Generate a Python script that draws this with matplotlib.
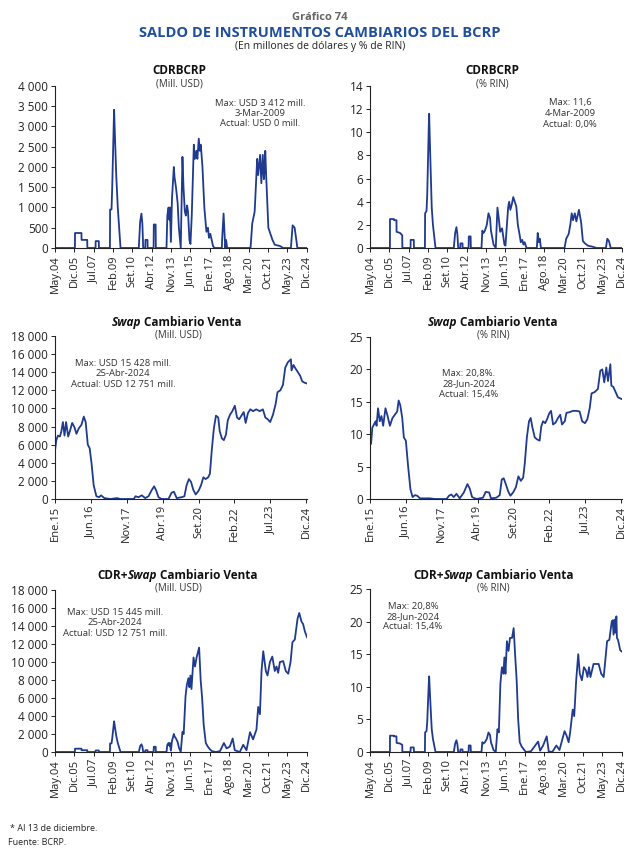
import matplotlib.pyplot as plt
import pandas as pd

plt.rcParams['font.family'] = ['Open Sans', 'DejaVu Sans']

AZUL = '#1f3a8f'
GRIS = '#333333'

# ---- datos (fecha, valor) ----
cdr_usd = [
    ("2004-05-01", 0), ("2005-12-17", 0), ("2005-12-20", 370), ("2006-07-01", 370), ("2006-07-04", 200),
    ("2006-12-20", 200), ("2006-12-24", 0), ("2007-08-26", 0), ("2007-08-29", 170), ("2007-12-01", 170),
    ("2007-12-05", 0), ("2008-10-28", 0), ("2008-11-03", 950), ("2008-12-15", 950), ("2009-01-05", 1500),
    ("2009-02-20", 3100), ("2009-03-03", 3412), ("2009-03-18", 3000), ("2009-05-05", 1800), ("2009-06-20", 1000),
    ("2009-09-10", 0), ("2011-03-10", 0), ("2011-04-20", 650), ("2011-05-28", 850), ("2011-06-25", 600),
    ("2011-07-20", 0), ("2011-09-20", 0), ("2011-09-25", 200), ("2011-11-25", 200), ("2011-11-30", 0),
    ("2012-05-25", 0), ("2012-06-01", 580), ("2012-07-25", 580), ("2012-08-01", 0), ("2013-06-15", 0),
    ("2013-07-10", 800), ("2013-08-15", 1000), ("2013-09-10", 700), ("2013-09-25", 1000), ("2013-10-25", 150),
    ("2013-11-25", 1200), ("2014-01-20", 2000), ("2014-02-10", 1750), ("2014-03-25", 1500), ("2014-05-15", 1100),
    ("2014-06-20", 500), ("2014-08-15", 0), ("2014-10-05", 2250), ("2014-11-05", 1500), ("2014-12-15", 900),
    ("2015-01-15", 800), ("2015-02-20", 1050), ("2015-03-20", 900), ("2015-05-01", 200), ("2015-06-01", 100),
    ("2015-07-10", 800), ("2015-09-10", 2550), ("2015-10-10", 2200), ("2015-11-25", 2400), ("2015-12-25", 2200),
    ("2016-02-05", 2700), ("2016-03-05", 2400), ("2016-04-05", 2550), ("2016-05-25", 2000), ("2016-07-20", 1000),
    ("2016-09-20", 400), ("2016-11-05", 500), ("2016-12-05", 250), ("2017-01-15", 350), ("2017-04-05", 50),
    ("2017-05-20", 0), ("2017-12-25", 0), ("2018-01-05", 250), ("2018-02-15", 850), ("2018-03-25", 200),
    ("2018-04-10", 0), ("2018-05-01", 200), ("2018-06-01", 0), ("2020-05-01", 0), ("2020-06-20", 600),
    ("2020-09-01", 900), ("2020-11-15", 2200), ("2020-12-15", 1800), ("2021-02-10", 2300), ("2021-03-20", 1600),
    ("2021-05-01", 2300), ("2021-06-05", 1700), ("2021-06-25", 2000), ("2021-07-15", 2400), ("2021-08-10", 1800),
    ("2021-10-15", 500), ("2021-12-15", 350), ("2022-02-15", 200), ("2022-04-25", 80), ("2022-09-25", 50),
    ("2023-01-01", 0), ("2023-08-20", 0), ("2023-10-10", 560), ("2023-12-10", 500), ("2024-03-01", 0),
    ("2024-12-13", 0),
]

cdr_pct = [
    ("2004-05-01", 0), ("2005-12-17", 0), ("2005-12-20", 2.5), ("2006-04-15", 2.5), ("2006-04-20", 2.4),
    ("2006-07-01", 2.4), ("2006-07-04", 1.4), ("2006-10-15", 1.3), ("2006-12-20", 1.1), ("2006-12-24", 0),
    ("2007-08-26", 0), ("2007-08-29", 0.7), ("2007-12-01", 0.7), ("2007-12-05", 0), ("2008-10-28", 0),
    ("2008-11-03", 3.0), ("2008-12-15", 3.2), ("2009-01-05", 4.6), ("2009-02-20", 10.5), ("2009-03-04", 11.6),
    ("2009-03-18", 10.0), ("2009-04-20", 6.5), ("2009-05-20", 3.5), ("2009-06-25", 2.0), ("2009-09-10", 0),
    ("2011-03-10", 0), ("2011-04-20", 1.3), ("2011-05-28", 1.8), ("2011-06-25", 1.2), ("2011-07-20", 0),
    ("2011-09-20", 0), ("2011-09-25", 0.4), ("2011-11-25", 0.4), ("2011-11-30", 0), ("2012-05-25", 0),
    ("2012-06-01", 1.0), ("2012-07-25", 1.0), ("2012-08-01", 0), ("2013-06-15", 0), ("2013-07-10", 1.5),
    ("2013-08-15", 1.3), ("2013-09-25", 1.5), ("2013-11-20", 2.0), ("2014-01-10", 3.0), ("2014-02-25", 2.6),
    ("2014-03-25", 1.5), ("2014-06-10", 0.3), ("2014-08-15", 0), ("2014-10-05", 3.5), ("2014-11-15", 2.5),
    ("2014-12-25", 1.4), ("2015-02-20", 1.7), ("2015-05-01", 0.3), ("2015-06-01", 0.2), ("2015-08-20", 3.5),
    ("2015-09-20", 4.0), ("2015-10-25", 3.3), ("2015-12-10", 3.8), ("2016-01-20", 4.4), ("2016-03-05", 4.0),
    ("2016-04-20", 3.6), ("2016-06-05", 2.0), ("2016-07-25", 1.2), ("2016-09-01", 0.5), ("2016-10-15", 0.7),
    ("2016-11-20", 0.3), ("2016-12-25", 0.5), ("2017-02-20", 0), ("2017-12-25", 0), ("2018-01-20", 1.3),
    ("2018-02-25", 0.5), ("2018-03-25", 0.8), ("2018-04-25", 0), ("2020-04-01", 0), ("2020-05-20", 0.8),
    ("2020-08-01", 1.2), ("2020-09-20", 2.0), ("2020-11-01", 3.0), ("2020-12-10", 2.4), ("2021-02-01", 3.0),
    ("2021-03-20", 2.3), ("2021-06-05", 3.3), ("2021-08-10", 2.2), ("2021-10-01", 0.6), ("2021-12-01", 0.4),
    ("2022-03-01", 0.2), ("2022-08-01", 0.1), ("2022-11-10", 0), ("2023-08-20", 0), ("2023-10-01", 0.8),
    ("2023-11-20", 0.6), ("2024-01-10", 0), ("2024-12-13", 0),
]

swap_usd = [
    ("2015-01-02", 5400), ("2015-01-20", 6500), ("2015-02-12", 7000), ("2015-03-12", 6900), ("2015-04-01", 7400),
    ("2015-04-25", 8500), ("2015-05-18", 7000), ("2015-06-10", 8500), ("2015-07-10", 6900), ("2015-08-04", 7500),
    ("2015-09-06", 8400), ("2015-10-10", 7900), ("2015-11-06", 7200), ("2015-12-10", 7800), ("2016-01-18", 8200),
    ("2016-02-20", 9100), ("2016-03-18", 8500), ("2016-04-18", 6000), ("2016-05-15", 5600), ("2016-06-10", 4000),
    ("2016-07-12", 1500), ("2016-08-20", 300), ("2016-09-27", 200), ("2016-10-27", 400), ("2016-12-12", 100),
    ("2017-03-10", 0), ("2017-06-12", 100), ("2017-08-01", 0), ("2018-02-10", 0), ("2018-03-06", 300),
    ("2018-04-18", 200), ("2018-06-06", 400), ("2018-07-25", 100), ("2018-09-10", 300), ("2018-10-28", 1000),
    ("2018-12-01", 1400), ("2019-01-01", 900), ("2019-02-01", 200), ("2019-03-18", 0), ("2019-06-25", 0),
    ("2019-08-10", 700), ("2019-09-12", 800), ("2019-10-22", 100), ("2020-01-01", 200), ("2020-02-10", 300),
    ("2020-03-12", 1500), ("2020-04-15", 2200), ("2020-05-15", 1900), ("2020-06-18", 1000), ("2020-07-22", 500),
    ("2020-09-01", 900), ("2020-10-06", 1500), ("2020-11-10", 2400), ("2020-12-12", 2200), ("2021-01-18", 2400),
    ("2021-02-12", 2800), ("2021-03-12", 5500), ("2021-04-10", 7800), ("2021-05-10", 9200), ("2021-06-12", 9000),
    ("2021-07-03", 7500), ("2021-08-03", 6700), ("2021-09-01", 6500), ("2021-10-01", 7100), ("2021-10-28", 8700),
    ("2021-11-28", 9300), ("2022-01-01", 9700), ("2022-02-06", 10300), ("2022-03-10", 9000), ("2022-04-10", 8800),
    ("2022-05-12", 9200), ("2022-06-15", 9600), ("2022-07-12", 8400), ("2022-08-15", 9500), ("2022-09-18", 9900),
    ("2022-10-28", 9700), ("2022-12-12", 9900), ("2023-02-01", 9700), ("2023-03-18", 9900), ("2023-04-22", 9000),
    ("2023-05-28", 8800), ("2023-07-01", 8500), ("2023-08-10", 9300), ("2023-09-18", 10500), ("2023-10-15", 11800),
    ("2023-11-25", 12000), ("2024-01-01", 12600), ("2024-02-03", 14500), ("2024-03-12", 15100), ("2024-04-25", 15428),
    ("2024-05-04", 14200), ("2024-06-01", 14800), ("2024-07-01", 14400), ("2024-08-04", 14000), ("2024-09-06", 13600),
    ("2024-10-04", 13000), ("2024-11-06", 12850), ("2024-12-13", 12751),
]

swap_pct = [
    ("2015-01-02", 9.0), ("2015-01-16", 8.5), ("2015-02-03", 11.0), ("2015-02-27", 11.5), ("2015-03-22", 12.0),
    ("2015-04-06", 11.3), ("2015-04-27", 14.0), ("2015-05-22", 12.0), ("2015-06-15", 12.8), ("2015-07-10", 11.3),
    ("2015-08-12", 14.0), ("2015-09-12", 12.8), ("2015-10-15", 11.3), ("2015-11-21", 12.5), ("2015-12-25", 13.0),
    ("2016-01-28", 13.5), ("2016-02-18", 15.2), ("2016-03-12", 14.5), ("2016-04-10", 12.5), ("2016-05-03", 9.5),
    ("2016-06-01", 9.0), ("2016-07-04", 5.0), ("2016-08-06", 1.5), ("2016-09-06", 0.3), ("2016-10-10", 0.6),
    ("2016-11-12", 0.5), ("2016-12-22", 0.1), ("2017-05-12", 0.1), ("2017-07-25", 0.0), ("2018-01-10", 0.0),
    ("2018-02-12", 0.5), ("2018-03-18", 0.7), ("2018-04-22", 0.3), ("2018-06-01", 0.8), ("2018-07-18", 0.1),
    ("2018-09-15", 1.0), ("2018-11-06", 2.3), ("2018-12-10", 1.6), ("2019-01-12", 0.3), ("2019-03-15", 0.0),
    ("2019-06-18", 0.2), ("2019-07-28", 1.1), ("2019-09-15", 1.0), ("2019-10-12", 0.1), ("2019-12-28", 0.2),
    ("2020-02-15", 0.6), ("2020-03-15", 3.0), ("2020-04-12", 3.2), ("2020-05-12", 2.3), ("2020-06-15", 1.2),
    ("2020-07-18", 0.5), ("2020-08-25", 1.0), ("2020-10-04", 1.8), ("2020-11-10", 3.5), ("2020-12-15", 2.8),
    ("2021-01-18", 3.3), ("2021-02-10", 5.5), ("2021-03-12", 9.5), ("2021-04-12", 12.0), ("2021-05-06", 12.5),
    ("2021-06-01", 11.0), ("2021-07-04", 9.5), ("2021-08-06", 9.2), ("2021-09-12", 9.0), ("2021-10-06", 11.2),
    ("2021-11-01", 12.0), ("2021-12-01", 11.7), ("2021-12-28", 12.3), ("2022-01-28", 13.2), ("2022-02-24", 13.6),
    ("2022-03-25", 11.5), ("2022-05-01", 11.8), ("2022-06-04", 12.5), ("2022-07-06", 13.0), ("2022-08-01", 11.5),
    ("2022-09-10", 12.0), ("2022-10-04", 13.3), ("2022-11-18", 13.4), ("2023-01-06", 13.6), ("2023-02-25", 13.6),
    ("2023-04-12", 13.5), ("2023-05-18", 12.0), ("2023-06-28", 11.7), ("2023-08-01", 12.3), ("2023-09-04", 14.0),
    ("2023-10-01", 16.3), ("2023-11-15", 16.5), ("2024-01-01", 17.0), ("2024-02-04", 19.8), ("2024-03-04", 20.0),
    ("2024-04-01", 18.0), ("2024-05-01", 20.3), ("2024-05-25", 18.2), ("2024-06-28", 20.8), ("2024-07-12", 17.5),
    ("2024-08-10", 17.3), ("2024-09-12", 16.5), ("2024-10-15", 15.7), ("2024-12-13", 15.4),
]

total_usd = [
    ("2004-05-01", 0), ("2005-12-17", 0), ("2005-12-20", 370), ("2006-07-01", 370), ("2006-07-04", 200),
    ("2006-12-20", 200), ("2006-12-24", 0), ("2007-08-26", 0), ("2007-08-29", 170), ("2007-12-01", 170),
    ("2007-12-05", 0), ("2008-10-28", 0), ("2008-11-03", 950), ("2008-12-15", 950), ("2009-01-05", 1500),
    ("2009-02-20", 3100), ("2009-03-03", 3412), ("2009-03-18", 3000), ("2009-05-05", 1800), ("2009-06-20", 1000),
    ("2009-09-10", 0), ("2011-03-10", 0), ("2011-04-20", 650), ("2011-05-28", 850), ("2011-06-25", 600),
    ("2011-07-20", 0), ("2011-09-20", 0), ("2011-09-25", 200), ("2011-11-25", 200), ("2011-11-30", 0),
    ("2012-05-25", 0), ("2012-06-01", 580), ("2012-07-25", 580), ("2012-08-01", 0), ("2013-06-15", 0),
    ("2013-07-10", 800), ("2013-08-15", 1000), ("2013-09-10", 700), ("2013-09-25", 1000), ("2013-10-25", 150),
    ("2013-11-25", 1200), ("2014-01-20", 2000), ("2014-02-10", 1750), ("2014-03-25", 1500), ("2014-05-15", 1100),
    ("2014-06-20", 500), ("2014-08-15", 0), ("2014-10-05", 2250), ("2014-11-10", 2000), ("2015-01-05", 6200),
    ("2015-02-15", 7500), ("2015-04-01", 8200), ("2015-05-01", 7200), ("2015-06-01", 8500), ("2015-07-01", 7000),
    ("2015-09-01", 10500), ("2015-10-15", 9500), ("2015-12-01", 10500), ("2016-02-15", 11600), ("2016-04-01", 8000),
    ("2016-05-15", 6000), ("2016-07-01", 3000), ("2016-09-01", 1000), ("2016-11-01", 600), ("2017-01-01", 300),
    ("2017-03-01", 100), ("2017-07-01", 0), ("2017-11-01", 100), ("2018-02-25", 1000), ("2018-05-15", 400),
    ("2018-08-20", 600), ("2018-11-15", 1500), ("2019-01-15", 200), ("2019-06-15", 0), ("2019-09-25", 800),
    ("2020-01-01", 200), ("2020-04-15", 2200), ("2020-06-01", 1800), ("2020-07-15", 1400), ("2020-10-25", 2500),
    ("2020-12-15", 5000), ("2021-02-05", 4200), ("2021-03-25", 9000), ("2021-05-15", 11200), ("2021-08-01", 9000),
    ("2021-09-20", 8500), ("2021-12-01", 10000), ("2022-02-10", 10600), ("2022-04-25", 9000), ("2022-06-15", 9500),
    ("2022-08-05", 8800), ("2022-09-25", 10000), ("2023-01-01", 10100), ("2023-03-20", 9000), ("2023-06-01", 8700),
    ("2023-08-10", 10000), ("2023-10-05", 12200), ("2023-12-15", 12500), ("2024-03-05", 14800), ("2024-04-25", 15445),
    ("2024-07-01", 14500), ("2024-08-20", 14200), ("2024-10-10", 13400), ("2024-12-13", 12751),
]

total_pct = [
    ("2004-05-01", 0), ("2005-12-17", 0), ("2005-12-20", 2.5), ("2006-04-15", 2.5), ("2006-04-20", 2.4),
    ("2006-07-01", 2.4), ("2006-07-04", 1.4), ("2006-10-15", 1.3), ("2006-12-20", 1.1), ("2006-12-24", 0),
    ("2007-08-26", 0), ("2007-08-29", 0.7), ("2007-12-01", 0.7), ("2007-12-05", 0), ("2008-10-28", 0),
    ("2008-11-03", 3.0), ("2008-12-15", 3.2), ("2009-01-05", 4.6), ("2009-02-20", 10.5), ("2009-03-04", 11.6),
    ("2009-03-18", 10.0), ("2009-04-20", 6.5), ("2009-05-20", 3.5), ("2009-06-25", 2.0), ("2009-09-10", 0),
    ("2011-03-10", 0), ("2011-04-20", 1.3), ("2011-05-28", 1.8), ("2011-06-25", 1.2), ("2011-07-20", 0),
    ("2011-09-20", 0), ("2011-09-25", 0.4), ("2011-11-25", 0.4), ("2011-11-30", 0), ("2012-05-25", 0),
    ("2012-06-01", 1.0), ("2012-07-25", 1.0), ("2012-08-01", 0), ("2013-06-15", 0), ("2013-07-10", 1.5),
    ("2013-08-15", 1.3), ("2013-09-25", 1.5), ("2013-11-20", 2.0), ("2014-01-10", 3.0), ("2014-02-25", 2.6),
    ("2014-03-25", 1.5), ("2014-06-10", 0.3), ("2014-08-15", 0), ("2014-10-05", 3.5), ("2014-11-15", 3.0),
    ("2015-01-01", 10.5), ("2015-02-15", 13.0), ("2015-04-01", 12.0), ("2015-05-01", 14.5), ("2015-06-01", 12.0),
    ("2015-07-15", 17.0), ("2015-09-01", 15.5), ("2015-10-15", 17.5), ("2015-12-15", 17.5), ("2016-02-01", 19.0),
    ("2016-03-15", 15.0), ("2016-05-01", 11.0), ("2016-06-15", 5.0), ("2016-08-01", 1.5), ("2016-10-01", 0.8),
    ("2016-12-01", 0.4), ("2017-02-01", 0), ("2017-07-01", 0.1), ("2018-02-01", 1.6), ("2018-04-01", 0.2),
    ("2018-07-01", 1.0), ("2018-10-15", 2.4), ("2018-12-15", 0.1), ("2019-04-01", 0), ("2019-08-01", 1.0),
    ("2019-11-01", 0.3), ("2020-04-01", 3.2), ("2020-06-01", 2.5), ("2020-08-01", 1.5), ("2020-09-15", 3.0),
    ("2020-12-01", 6.5), ("2021-01-15", 5.5), ("2021-03-15", 11.0), ("2021-05-15", 15.0), ("2021-07-01", 12.0),
    ("2021-09-01", 11.0), ("2021-11-01", 13.0), ("2022-01-01", 12.5), ("2022-02-15", 11.5), ("2022-04-01", 13.0),
    ("2022-05-15", 11.5), ("2022-08-15", 13.5), ("2023-01-15", 13.5), ("2023-04-01", 12.0), ("2023-06-15", 11.5),
    ("2023-08-01", 14.0), ("2023-09-25", 17.0), ("2023-12-01", 17.2), ("2024-02-10", 20.0), ("2024-03-10", 20.2),
    ("2024-04-05", 18.0), ("2024-05-05", 20.3), ("2024-05-28", 18.3), ("2024-06-28", 20.8), ("2024-07-15", 17.5),
    ("2024-08-15", 17.2), ("2024-09-15", 16.5), ("2024-10-20", 15.6), ("2024-12-13", 15.4),
]

# ejes x
ticks_largo = ["2004-05-01", "2005-12-01", "2007-07-01", "2009-02-01", "2010-09-01", "2012-04-01", "2013-11-01",
               "2015-06-01", "2017-01-01", "2018-08-01", "2020-03-01", "2021-10-01", "2023-05-01", "2024-12-01"]
labels_largo = ["May.04", "Dic.05", "Jul.07", "Feb.09", "Set.10", "Abr.12", "Nov.13",
                "Jun.15", "Ene.17", "Ago.18", "Mar.20", "Oct.21", "May.23", "Dic.24"]
ticks_corto = ["2015-01-01", "2016-06-01", "2017-11-01", "2019-04-01", "2020-09-01", "2022-02-01",
               "2023-07-01", "2024-12-01"]
labels_corto = ["Ene.15", "Jun.16", "Nov.17", "Abr.19", "Set.20", "Feb.22", "Jul.23", "Dic.24"]

W, H = 640, 855
fig = plt.figure(figsize=(W / 100, H / 100), dpi=100)


def fx(px):
    return px / W


def fy(py):
    return 1 - py / H


def panel(left, top, right, bottom, serie, ymax, ystep, ticks, labels, miles=False):
    ax = fig.add_axes([fx(left), fy(bottom), fx(right - left), (bottom - top) / H])
    x = pd.to_datetime([d for d, v in serie])
    y = [v for d, v in serie]
    ax.plot(x, y, color=AZUL, lw=1.3, solid_joinstyle='round')
    ax.set_xlim(pd.Timestamp(ticks[0]), pd.Timestamp("2024-12-13"))
    ax.set_ylim(0, ymax)
    yt = list(range(0, ymax + 1, ystep))
    ax.set_yticks(yt)
    if miles:
        ax.set_yticklabels([f"{v:,}".replace(",", " ") for v in yt])
    else:
        ax.set_yticklabels([str(v) for v in yt])
    ax.set_xticks(pd.to_datetime(ticks))
    ax.set_xticklabels(labels, rotation=90)
    for s in ['top', 'right']:
        ax.spines[s].set_visible(False)
    for s in ['left', 'bottom']:
        ax.spines[s].set_color('#222222')
        ax.spines[s].set_linewidth(0.8)
    ax.tick_params(axis='both', labelsize=8.5, colors='#222222', length=3, width=0.7, pad=2)
    ax.tick_params(axis='x', labelsize=8)
    return ax


# partes: (texto, estilo, espacio en px antes de la siguiente parte)
def titulo(xc, y, partes, size=8.5):
    r = fig.canvas.get_renderer()
    objs = []
    for s, st, g in partes:
        t = fig.text(0, fy(y), s, fontsize=size, fontweight='bold', style=st, color='#111111',
                     ha='left', va='center')
        objs.append((t, g))
    anchos = [t.get_window_extent(renderer=r).width for t, g in objs]
    total = sum(anchos) + sum(g for t, g in objs[:-1])
    x = xc - total / 2
    for (t, g), w in zip(objs, anchos):
        t.set_x(fx(x))
        x += w + g


def nota(xc, y0, lineas):
    for i, s in enumerate(lineas):
        fig.text(fx(xc), fy(y0 + i * 10.5), s, fontsize=6.8, color=GRIS, ha='center', va='center')


def sub(xc, y, s):
    fig.text(fx(xc), fy(y), s, fontsize=7, color=GRIS, ha='center', va='center')


# encabezado
fig.text(0.5, fy(17), "Gráfico 74", fontsize=8, fontweight='bold', color='#666666', ha='center', va='center')
fig.text(0.5, fy(33), "SALDO DE INSTRUMENTOS CAMBIARIOS DEL BCRP", fontsize=10.5, fontweight='bold',
         color='#1f4e9c', ha='center', va='center')
fig.text(0.5, fy(47), "(En millones de dólares y % de RIN)", fontsize=7.5, color='#222222',
         ha='center', va='center')

# fila 1
panel(55, 86, 307, 248, cdr_usd, 4000, 500, ticks_largo, labels_largo, miles=True)
titulo(179, 70, [("CDRBCRP", 'normal', 0)])
sub(179, 84, "(Mill. USD)")
nota(260, 103, ["Max: USD 3 412 mill.", "3-Mar-2009", "Actual: USD 0 mill."])

panel(370, 86, 622, 248, cdr_pct, 14, 2, ticks_largo, labels_largo)
titulo(492, 70, [("CDRBCRP", 'normal', 0)])
sub(492, 84, "(% RIN)")
nota(570, 103, ["Max: 11,6", "4-Mar-2009", "Actual: 0,0%"])

# fila 2
panel(55, 336, 307, 499, swap_usd, 18000, 2000, ticks_corto, labels_corto, miles=True)
titulo(177, 322, [("Swap", 'italic', 2.5), ("Cambiario Venta", 'normal', 0)])
sub(178, 335, "(Mill. USD)")
nota(123, 363, ["Max: USD 15 428 mill.", "25-Abr-2024", "Actual: USD 12 751 mill."])

panel(370, 337, 622, 499, swap_pct, 25, 5, ticks_corto, labels_corto)
titulo(493, 322, [("Swap", 'italic', 2.5), ("Cambiario Venta", 'normal', 0)])
sub(493, 335, "(% RIN)")
nota(469, 373, ["Max: 20,8%.", "28-Jun-2024", "Actual: 15,4%"])

# fila 3
panel(55, 590, 307, 752, total_usd, 18000, 2000, ticks_largo, labels_largo, miles=True)
titulo(177, 575, [("CDR+", 'normal', 0), ("Swap", 'italic', 2.5), ("Cambiario Venta", 'normal', 0)])
sub(178, 588, "(Mill. USD)")
nota(115, 612, ["Max: USD 15 445 mill.", "25-Abr-2024", "Actual: USD 12 751 mill."])

panel(370, 589, 622, 752, total_pct, 25, 5, ticks_largo, labels_largo)
titulo(493, 575, [("CDR+", 'normal', 0), ("Swap", 'italic', 2.5), ("Cambiario Venta", 'normal', 0)])
sub(493, 588, "(% RIN)")
nota(413, 606, ["Max: 20,8%", "28-Jun-2024", "Actual: 15,4%"])

# notas al pie
fig.text(fx(10), fy(828), "* Al 13 de diciembre.", fontsize=6.5, color='#222222', ha='left', va='center')
fig.text(fx(8), fy(842), "Fuente: BCRP.", fontsize=6.5, color='#222222', ha='left', va='center')

fig.savefig("out.png", dpi=100)
